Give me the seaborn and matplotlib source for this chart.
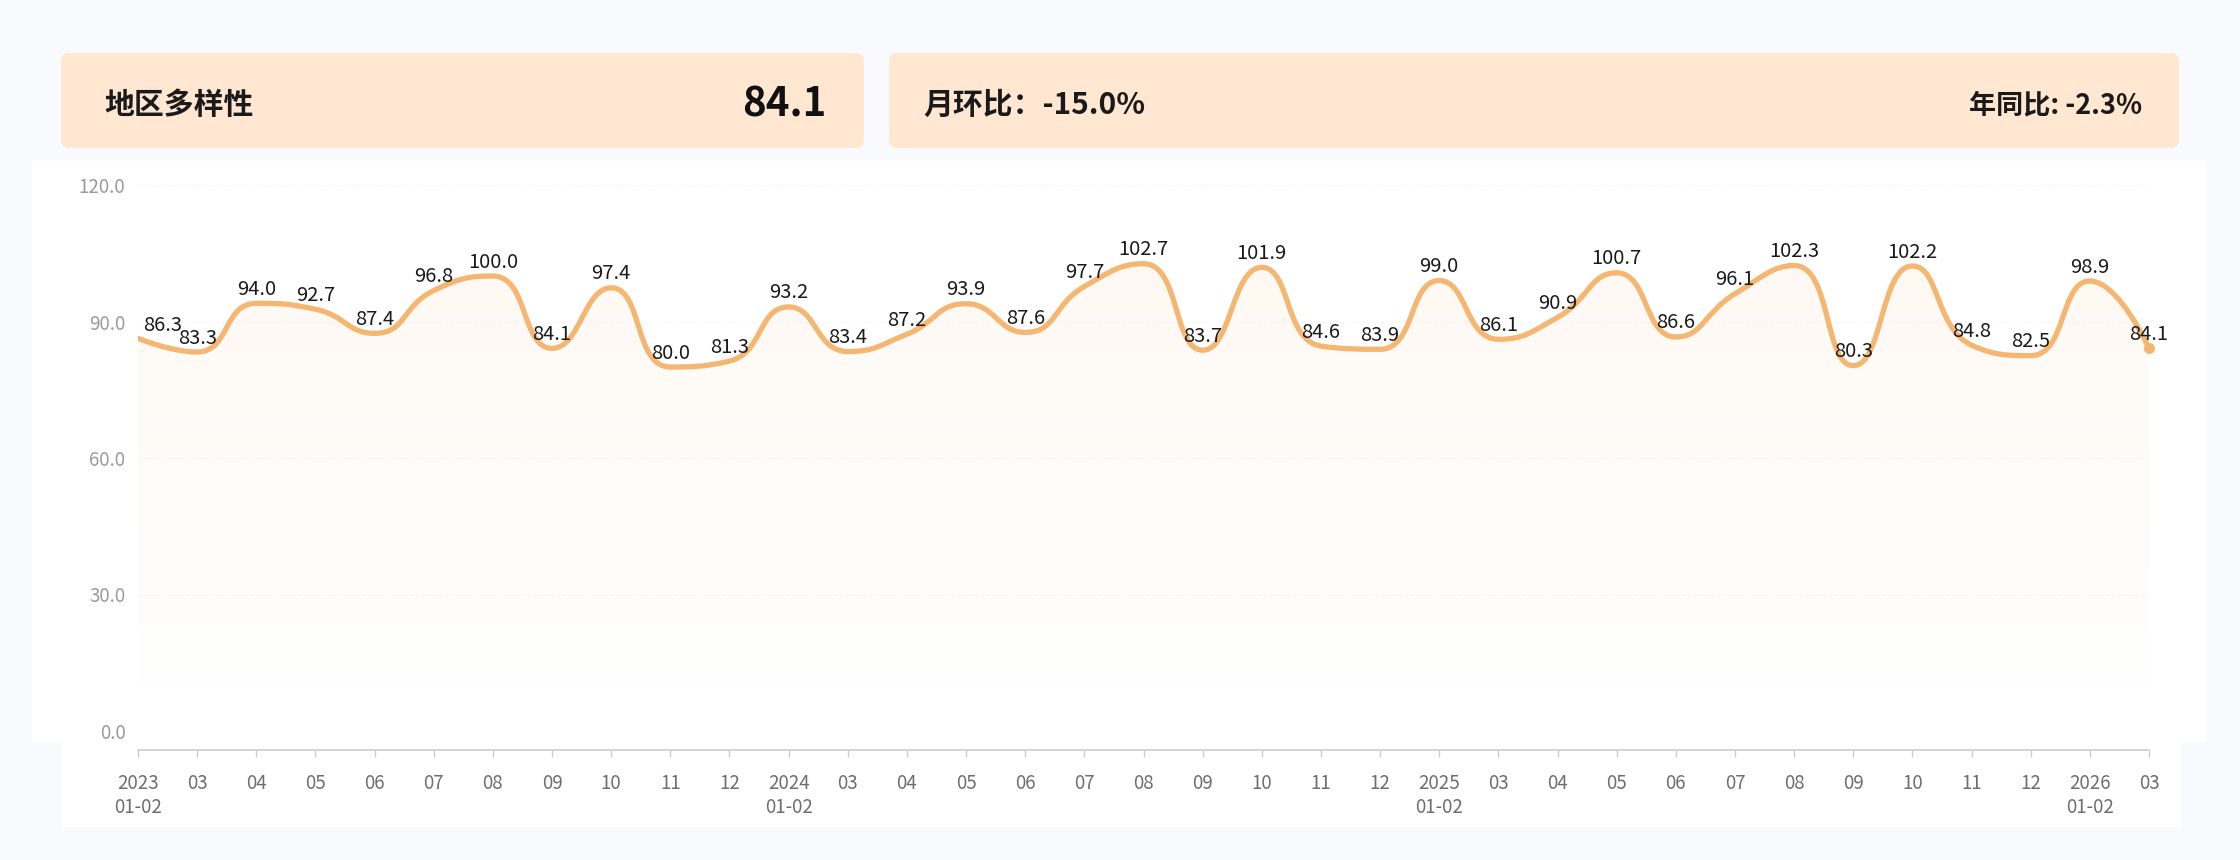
import numpy as np
import matplotlib
matplotlib.use("Agg")
import matplotlib.pyplot as plt
import seaborn as sns
from matplotlib.path import Path
from matplotlib.patches import PathPatch, FancyBboxPatch, Rectangle

# data
months = ["2023\n01-02", "03", "04", "05", "06", "07", "08", "09", "10", "11", "12",
          "2024\n01-02", "03", "04", "05", "06", "07", "08", "09", "10", "11", "12",
          "2025\n01-02", "03", "04", "05", "06", "07", "08", "09", "10", "11", "12",
          "2026\n01-02", "03"]
values = [86.3, 83.3, 94.0, 92.7, 87.4, 96.8, 100.0, 84.1, 97.4, 80.0, 81.3,
          93.2, 83.4, 87.2, 93.9, 87.6, 97.7, 102.7, 83.7, 101.9, 84.6, 83.9,
          99.0, 86.1, 90.9, 100.7, 86.6, 96.1, 102.3, 80.3, 102.2, 84.8, 82.5,
          98.9, 84.1]
y_ticks = [0, 30, 60, 90, 120]
metric_name = "地区多样性"
metric_value = "84.1"
mom_text = "月环比：-15.0%"
yoy_text = "年同比: -2.3%"

LINE = "#F4B671"
CARD = "#FFE7D2"
BG = "#F8FAFE"

sns.set_theme(style="white")
plt.rcParams["font.family"] = ["Noto Sans CJK SC", "DejaVu Sans"]

W, H = 2240, 860
fig = plt.figure(figsize=(W / 100, H / 100), dpi=100, facecolor=BG)


def box(x0, y0, x1, y1):
    # pixel box (top-left origin) -> figure fraction
    return x0 / W, 1 - y1 / H, (x1 - x0) / W, (y1 - y0) / H


# white panels behind the chart
for x0, y0, x1, y1 in [(32, 161, 2206, 742), (61, 742, 2181, 827)]:
    l, b, w, h = box(x0, y0, x1, y1)
    fig.patches.append(Rectangle((l, b), w, h, transform=fig.transFigure,
                                 facecolor="white", edgecolor="none", zorder=-2))

# header cards
for x0, x1 in [(61, 864), (889, 2179)]:
    fig.patches.append(FancyBboxPatch((x0, H - 148), x1 - x0, 95,
                                      boxstyle="round,pad=0,rounding_size=8",
                                      transform=None, facecolor=CARD,
                                      edgecolor="none", zorder=-2))

ty = 1 - 105 / H
fig.text(104 / W, ty, metric_name, fontsize=21.5, fontweight="bold",
         color="#1a1a1a", va="center", ha="left")
fig.text(826 / W, ty, metric_value, fontsize=29, fontweight="bold",
         color="#111111", va="center", ha="right")
fig.text(923 / W, ty, mom_text, fontsize=21.5, fontweight="bold",
         color="#1a1a1a", va="center", ha="left")
fig.text(2142 / W, ty, yoy_text, fontsize=19.5, fontweight="bold",
         color="#1a1a1a", va="center", ha="right")

# chart axes
ax = fig.add_axes([138 / W, 1 - 731 / H, (2149 - 138) / W, (731 - 185) / H])
ax.set_facecolor("none")
x = np.arange(len(values))
y = np.array(values)
ax.set_xlim(0, len(values) - 1)
ax.set_ylim(0, 120)

# smooth bezier path, echarts style (control points clamped, no overshoot),
# computed in pixel units then mapped back to data units
sx, sy = 59.15, 546 / 120
px, py = x * sx, y * sy
smooth = 0.5
n = len(x)
cp_in = [None] * n
cp_out = [None] * n
cp_in[0] = (px[0], py[0])
for i in range(n):
    if i == n - 1:
        cp_in[i] = cp_in[i] if cp_in[i] is not None else (px[i], py[i])
        break
    pi = max(i - 1, 0)
    ni = i + 1
    xc, yc = px[i], py[i]
    xp, yp = px[pi], py[pi]
    xn, yn = px[ni], py[ni]
    if i == 0:
        cp_out[i] = (xc, yc)
        continue
    vx, vy = (xn - xp) * smooth, (yn - yp) * smooth
    lp = np.hypot(xc - xp, yc - yp)
    ln = np.hypot(xn - xc, yn - yc)
    r = ln / (ln + lp)
    ncx, ncy = xc + vx * r, yc + vy * r
    ncx = min(max(ncx, min(xn, xc)), max(xn, xc))
    ncy = min(max(ncy, min(yn, yc)), max(yn, yc))
    vx, vy = ncx - xc, ncy - yc
    c1x, c1y = xc - vx * lp / ln, yc - vy * lp / ln
    c1x = min(max(c1x, min(xp, xc)), max(xp, xc))
    c1y = min(max(c1y, min(yp, yc)), max(yp, yc))
    vx, vy = xc - c1x, yc - c1y
    ncx, ncy = xc + vx * ln / lp, yc + vy * ln / lp
    cp_in[i] = (c1x, c1y)
    cp_out[i] = (ncx, ncy)
cp_in[n - 1] = (px[n - 1], py[n - 1])

verts = [(x[0], y[0])]
codes = [Path.MOVETO]
for i in range(1, n):
    a = cp_out[i - 1]
    b = cp_in[i]
    verts += [(a[0] / sx, a[1] / sy), (b[0] / sx, b[1] / sy), (x[i], y[i])]
    codes += [Path.CURVE4] * 3

line_path = Path(verts, codes)
ax.add_patch(PathPatch(line_path, facecolor="none", edgecolor=LINE,
                       lw=3.8, capstyle="round", joinstyle="round", zorder=3))

# gradient area under the curve
area_path = Path(verts + [(x[-1], 0), (x[0], 0), (x[0], y[0])],
                 codes + [Path.LINETO, Path.LINETO, Path.CLOSEPOLY])
area = PathPatch(area_path, facecolor="none", edgecolor="none")
ax.add_patch(area)
grad = np.zeros((256, 1, 4))
grad[:, 0, :3] = np.array([0xF4, 0xB6, 0x71]) / 255
grad[:, 0, 3] = np.linspace(0.09, 0.0, 256)
img = ax.imshow(grad, extent=[x[0], x[-1], 5, 105], origin="upper",
                aspect="auto", zorder=1)
img.set_clip_path(area)

ax.plot(x[-1], y[-1], "o", color=LINE, ms=7, clip_on=False, zorder=4)

# data labels
for i, v in enumerate(values):
    if i == 0:
        ax.annotate(f"{v:.1f}", (i, v), xytext=(4, 2), textcoords="offset points",
                    ha="left", va="bottom", fontsize=14.5, color="#1a1a1a", zorder=5)
    else:
        ax.annotate(f"{v:.1f}", (i, v), xytext=(0, 2.5), textcoords="offset points",
                    ha="center", va="bottom", fontsize=14.5, color="#1a1a1a", zorder=5)

# axes styling
ax.set_yticks(y_ticks)
ax.set_yticklabels([f"{t:.1f}" for t in y_ticks])
ax.tick_params(axis="y", length=0, pad=9, labelsize=13.5, labelcolor="#9a9a9a")
ax.grid(axis="y", color="#f7f7f7", lw=0.8, ls="--")
ax.set_xticks(x)
ax.set_xticklabels(months, linespacing=1.4)
ax.tick_params(axis="x", length=5, width=1, color="#cccccc", direction="out",
               pad=11, labelsize=13.5, labelcolor="#6e6e6e", bottom=True)
for side in ["left", "right", "top"]:
    ax.spines[side].set_visible(False)
ax.spines["bottom"].set_position(("outward", 14))
ax.spines["bottom"].set_color("#cccccc")
ax.spines["bottom"].set_linewidth(1.2)

fig.savefig("out.png", dpi=100, facecolor=BG)
